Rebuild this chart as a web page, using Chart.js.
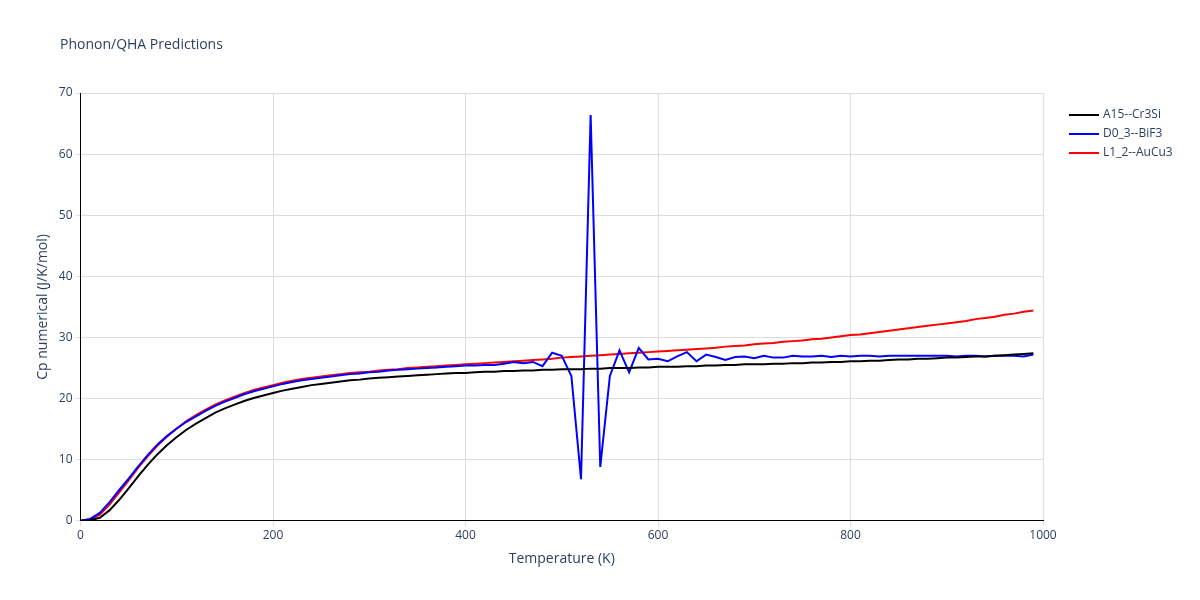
<!DOCTYPE html>
<html><head><meta charset="utf-8">
<script src="https://cdn.jsdelivr.net/npm/chart.js@4"></script>
<style>body{margin:0;background:#fff}#wrap{width:1200px;height:600px}</style>
</head><body><div id="wrap"><canvas id="c"></canvas></div>
<script>
const temps = Array.from({length: 100}, (_, i) => i * 10);
const cr3si = [0,0.1,0.5,1.7,3.4,5.3,7.3,9.2,10.9,12.4,
13.7,14.9,15.9,16.8,17.7,18.4,19.0,19.6,20.1,20.5,
20.9,21.3,21.6,21.9,22.2,22.4,22.6,22.8,23.0,23.1,
23.3,23.4,23.5,23.6,23.7,23.8,23.9,24.0,24.1,24.2,
24.2,24.3,24.4,24.4,24.5,24.5,24.6,24.6,24.7,24.7,
24.8,24.8,24.8,24.9,24.9,25.0,25.0,25.0,25.1,25.1,
25.2,25.2,25.2,25.3,25.3,25.4,25.4,25.5,25.5,25.6,
25.6,25.6,25.7,25.7,25.8,25.8,25.9,25.9,26.0,26.0,
26.1,26.1,26.2,26.2,26.3,26.4,26.4,26.5,26.5,26.6,
26.7,26.7,26.8,26.9,26.9,27.0,27.1,27.2,27.3,27.4];
const bif3 = [0,0.3,1.3,3.0,5.0,6.9,8.9,10.8,12.5,13.9,
15.1,16.2,17.1,18.0,18.8,19.5,20.1,20.7,21.2,21.6,
22.0,22.4,22.7,23.0,23.2,23.4,23.6,23.8,24.0,24.1,
24.3,24.4,24.6,24.7,24.8,24.9,25.0,25.1,25.2,25.3,
25.4,25.4,25.5,25.5,25.7,26.0,25.8,26.0,25.3,27.5,
27.0,23.7,6.8,66.4,8.8,23.7,27.9,24.3,28.3,26.4,
26.5,26.1,26.9,27.6,26.1,27.2,26.8,26.3,26.8,26.9,
26.6,27.0,26.7,26.7,27.0,26.9,26.9,27.0,26.8,27.0,
26.9,27.0,27.0,26.9,27.0,27.0,27.0,27.0,27.0,27.0,
27.0,26.9,27.0,27.0,26.9,27.0,27.0,27.0,26.9,27.2];
const aucu3 = [0,0.2,1.0,2.6,4.6,6.6,8.7,10.6,12.3,13.8,
15.1,16.3,17.3,18.2,19.0,19.7,20.3,20.9,21.4,21.8,
22.2,22.6,22.9,23.2,23.4,23.6,23.8,24.0,24.2,24.3,
24.4,24.6,24.7,24.8,25.0,25.1,25.2,25.3,25.4,25.5,
25.6,25.7,25.8,25.9,26.0,26.1,26.2,26.3,26.4,26.5,
26.7,26.8,26.9,27.0,27.1,27.2,27.3,27.4,27.5,27.6,
27.7,27.8,27.9,28.0,28.1,28.2,28.3,28.5,28.6,28.7,
28.9,29.0,29.1,29.3,29.4,29.5,29.7,29.8,30.0,30.2,
30.4,30.5,30.7,30.9,31.1,31.3,31.5,31.7,31.9,32.1,
32.3,32.5,32.7,33.0,33.2,33.4,33.7,33.9,34.2,34.4];
const names = ['A15--Cr3Si', 'D0_3--BiF3', 'L1_2--AuCu3'];
const colors = ['#000000', '#0000ff', '#ff0000'];

const fam = '"Open Sans", Arial, sans-serif';
const font = {family: fam, size: 12};
const tc = '#2a3f5f';
const sets = [cr3si, bif3, aucu3].map((s, k) => ({
  label: names[k],
  data: temps.map((t, i) => ({x: t, y: s[i]})),
  borderColor: colors[k], backgroundColor: colors[k],
  borderWidth: 2, pointRadius: 0, tension: 0
}));

// plotly-like title and legend drawn outside the plot area
const extras = {
  id: 'extras',
  afterDraw(chart) {
    const ctx = chart.ctx;
    ctx.save();
    ctx.fillStyle = tc;
    ctx.textBaseline = 'middle';
    ctx.font = '14px ' + fam;
    ctx.fillText('Phonon/QHA Predictions', 60, 45);
    ctx.font = '12px ' + fam;
    names.forEach((n, k) => {
      const y = 115 + k * 19;
      ctx.strokeStyle = colors[k];
      ctx.lineWidth = 2;
      ctx.beginPath(); ctx.moveTo(1069, y); ctx.lineTo(1099, y); ctx.stroke();
      ctx.fillText(n, 1103, y);
    });
    ctx.restore();
  }
};

new Chart(document.getElementById('c'), {
  type: 'line',
  data: {datasets: sets},
  plugins: [extras],
  options: {
    responsive: true, maintainAspectRatio: false, animation: false,
    layout: {padding: {left: 31, right: 157, top: 93, bottom: 29}},
    plugins: {legend: {display: false}, tooltip: {enabled: false}},
    scales: {
      x: {type: 'linear', min: 0, max: 1000,
        ticks: {stepSize: 200, color: tc, font: font, callback: v => String(v)},
        grid: {color: '#dddddd', tickLength: 5},
        border: {color: '#000', width: 1},
        title: {display: true, text: 'Temperature (K)', color: tc, font: {family: fam, size: 14}}},
      y: {min: 0, max: 70,
        ticks: {stepSize: 10, color: tc, font: font},
        grid: {color: '#dddddd', tickLength: 5},
        border: {color: '#000', width: 1},
        title: {display: true, text: 'Cp numerical (J/K/mol)', color: tc, font: {family: fam, size: 14}}}
    }
  }
});
</script></body></html>
